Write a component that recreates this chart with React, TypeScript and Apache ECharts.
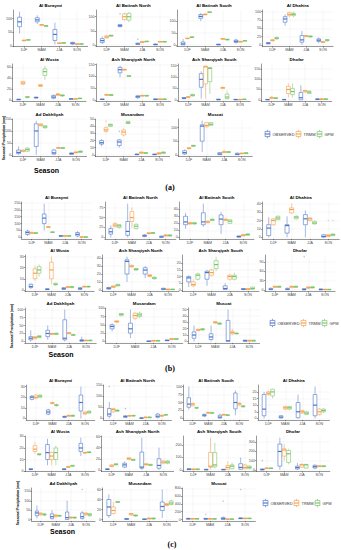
import React, { useEffect, useRef } from "react";
import * as echarts from "echarts";

const SEASONS = ["DJF", "MAM", "JJA", "SON"];
const PRODUCTS = ["OBSERVED", "TRMM", "GPM"];
const STATIONS = [
  "Al Buraymi", "Al Batinah North", "Al Batinah South", "Al Dhahira",
  "Al Wusta", "Ash Sharqiyah North", "Ash Sharqiyah South", "Dhofar",
  "Ad Dakhliyah", "Musandam", "Muscat",
];
const PANEL_LABELS = ["(a)", "(b)", "(c)"];
const Y_TITLE = "Seasonal Precipitation (mm)";
const X_TITLE = "Season";

// [min, Q1, median, Q3, max] per station, per season (DJF, MAM, JJA, SON)
const A_OBS = [
  [[45, 70, 88, 105, 125], [80, 88, 95, 103, 112], [5, 20, 42, 60, 85], [4, 7, 10, 13, 15]],
  [[3, 8, 15, 22, 30], [62, 65, 68, 72, 75], [0, 2, 3, 6, 8], [0, 0.5, 1, 3, 4]],
  [[0, 0, 4, 12, 25], [100, 112, 120, 128, 135], [0, 0.5, 1, 3, 4], [5, 10, 15, 20, 25]],
  [[2, 3, 5, 7, 8], [58, 68, 78, 85, 92], [0, 8, 15, 28, 42], [5, 10, 14, 18, 22]],
  [[0, 0.2, 0.5, 1, 1.5], [3, 3.5, 4, 5, 5.5], [1, 3, 5, 8, 10], [1, 1.2, 1.5, 2, 2.5]],
  [[2, 2.5, 3, 4, 4.5], [95, 115, 128, 138, 145], [5, 10, 14, 18, 22], [1, 1.5, 3, 5, 6]],
  [[4, 5, 7, 10, 12], [5, 55, 90, 115, 125], [0, 0.5, 1, 3, 4], [0, 0.3, 1, 2, 2.5]],
  [[0, 0.5, 1, 2, 2.5], [0, 0.5, 1, 2, 2.5], [0, 0, 10, 35, 70], [0, 1, 2, 5, 7]],
  [[0, 5, 10, 20, 35], [0, 35, 100, 130, 143], [0, 3, 8, 20, 25], [1, 2, 5, 8, 10]],
  [[12, 15, 17, 20, 22], [10, 13, 18, 21, 22], [0, 0.2, 0.5, 1, 1.2], [0, 0.2, 0.5, 1, 1.2]],
  [[0, 3, 8, 15, 20], [10, 50, 105, 110, 125], [0, 0.5, 3, 8, 10], [0, 0.5, 2, 6, 8]],
];
const A_TRMM = [
  [[18, 19, 20, 21, 22], [74, 75, 77, 78, 79], [8, 9, 10, 11, 12], [5, 6, 7, 8, 9]],
  [[22, 25, 28, 32, 35], [85, 90, 100, 110, 115], [7, 8, 10, 12, 13], [9, 10, 11, 12, 13]],
  [[25, 26, 27, 28, 29], [126, 127, 128, 130, 131], [23, 24, 25, 27, 28], [11, 12, 13, 15, 16]],
  [[11, 12, 14, 15, 16], [83, 88, 92, 97, 100], [24, 25, 27, 28, 29], [6, 7, 8, 10, 11]],
  [[27, 29, 31, 34, 35], [24, 25, 26, 28, 29], [7, 8, 10, 11, 12], [0.5, 1, 1.5, 2, 2.5]],
  [[19, 20, 22, 23, 24], [126, 127, 128, 130, 131], [16, 17, 18, 20, 21], [1, 2, 3, 5, 6]],
  [[10, 11, 12, 14, 15], [5, 70, 145, 148, 150], [49, 50, 53, 55, 56], [0, 0.5, 1, 2, 2.5]],
  [[6, 7, 9, 12, 13], [10, 30, 50, 65, 80], [35, 38, 43, 45, 48], [1, 2, 3, 5, 6]],
  [[12, 13, 16, 20, 22], [120, 122, 125, 130, 132], [27, 28, 29, 30, 31], [7, 8, 10, 12, 13]],
  [[31, 33, 35, 38, 40], [26, 28, 32, 35, 37], [1.5, 2, 3, 4, 4.5], [0.5, 1, 2, 3, 3.5]],
  [[21, 22, 24, 26, 27], [100, 103, 108, 118, 120], [7, 8, 10, 12, 20], [3, 4, 5, 6, 7]],
];
const A_GPM = [
  [[20, 21, 22, 23, 24], [71, 72, 73, 74, 75], [9, 10, 11, 12, 13], [5, 6, 7, 8, 9]],
  [[30, 31, 33, 34, 35], [80, 88, 100, 112, 118], [10, 11, 12, 13, 14], [9, 10, 11, 12, 13]],
  [[30, 31, 32, 34, 35], [135, 136, 138, 139, 140], [20, 21, 22, 24, 25], [15, 16, 17, 18, 19]],
  [[16, 18, 20, 22, 26], [83, 88, 92, 95, 100], [23, 24, 25, 27, 28], [10, 12, 14, 16, 18]],
  [[3, 4, 5, 6, 6.5], [37, 45, 52, 57, 63], [6, 7, 8, 9, 10], [2, 2.2, 2.5, 3, 3.5]],
  [[19, 20, 21, 23, 24], [99, 100, 101, 103, 104], [16, 17, 18, 20, 21], [1, 2, 3, 5, 6]],
  [[15, 17, 20, 24, 26], [25, 80, 138, 142, 145], [2, 5, 12, 25, 40], [0.5, 1, 2, 3, 3.5]],
  [[5, 6, 8, 10, 11], [10, 25, 40, 55, 80], [28, 30, 37, 42, 45], [1, 2, 3, 5, 6]],
  [[12, 15, 22, 28, 32], [110, 113, 117, 122, 125], [26, 27, 28, 30, 31], [9, 10, 13, 16, 18]],
  [[39, 40, 42, 43, 44], [43, 44, 45, 47, 48], [1.5, 2, 2.5, 3, 3.5], [1.5, 2, 3, 4, 4.5]],
  [[30, 31, 33, 35, 36], [105, 108, 112, 118, 120], [7, 8, 10, 12, 13], [3, 4, 6, 8, 9]],
];

const B_OBS = [
  [[10, 20, 35, 45, 55], [50, 100, 140, 170, 245], [5, 7, 10, 13, 15], [0, 10, 22, 35, 45]],
  [[0, 8, 14, 22, 30], [0, 5, 15, 40, 85], [0, 2, 4, 6, 8], [0, 0.3, 1, 3, 4]],
  [[12, 18, 22, 30, 35], [15, 18, 22, 35, 48], [5, 18, 26, 32, 36], [0, 0.3, 1, 2, 2.5]],
  [[0, 2, 11, 15, 24], [0, 5, 14, 15, 25], [0, 15, 22, 27, 32], [0, 0.3, 1, 3, 4]],
  [[1, 2, 3, 5, 6], [0, 0.2, 0.5, 1, 1.2], [0, 0.5, 1, 2, 2.5], [0, 0.5, 1, 2, 2.5]],
  [[0, 1, 2, 3, 4], [10, 20, 36, 38, 42], [15, 20, 25, 28, 30], [0, 0.3, 1, 2, 2.5]],
  [[2, 6, 9, 10, 11], [3, 8, 13, 14, 15], [0, 0.3, 1, 3, 5], [0, 0.2, 0.5, 1, 1.2]],
  [[0, 0.5, 2, 5, 7], [0, 0.5, 2, 5, 7], [0, 0.3, 1, 4, 6], [0, 0.3, 1, 3, 4]],
  [[0, 5, 10, 15, 35], [5, 15, 25, 35, 50], [0, 5, 10, 68, 100], [0, 0.5, 3, 5, 15]],
  [[30, 38, 45, 50, 55], [10, 25, 38, 55, 96], [0, 0.2, 0.5, 1, 1.2], [1.5, 2, 3, 4, 4.5]],
  [[0, 5, 10, 15, 25], [0, 3, 7, 12, 25], [0, 0.2, 1, 33, 50], [0, 0.3, 1, 2, 2.5]],
];
const B_TRMM = [
  [[24, 28, 32, 36, 40], [70, 72, 75, 78, 80], [7, 8, 10, 12, 13], [0, 1, 2, 4, 5]],
  [[25, 27, 31, 35, 38], [25, 40, 50, 65, 75], [8, 9, 10, 12, 13], [2, 3, 5, 6, 7]],
  [[18, 19, 20, 21, 22], [20, 21, 22, 23, 24], [23, 24, 25, 26, 27], [1.5, 2, 3, 4, 4.5]],
  [[14, 15, 20, 22, 23], [28, 29, 33, 35, 40], [19, 20, 22, 23, 24], [0.5, 1, 2, 3, 3.5]],
  [[8, 10, 15, 19, 22], [5, 10, 18, 25, 30], [1.5, 2, 2.5, 3, 3.5], [2, 2.5, 3, 3.2, 3.5]],
  [[2.5, 3, 4, 5, 5.5], [28, 29, 30, 31, 32], [16, 17, 18, 19, 20], [0, 0.2, 0.5, 1, 1.2]],
  [[2, 3, 4, 6, 8], [10, 11, 13, 15, 16], [7, 8, 10, 11, 12], [0, 0.2, 0.5, 1, 1.2]],
  [[7, 8, 10, 12, 13], [6, 7, 10, 12, 13], [4, 5, 7, 10, 11], [0, 0.5, 1, 2, 2.5]],
  [[6, 8, 12, 15, 17], [21, 22, 24, 25, 26], [23, 24, 26, 28, 29], [1.5, 2, 3, 4, 4.5]],
  [[56, 58, 60, 62, 63], [65, 70, 78, 85, 88], [0.5, 1, 2, 3, 3.5], [5, 6, 7, 9, 10]],
  [[16, 17, 18, 19, 20], [28, 29, 30, 31, 32], [10, 12, 14, 16, 20], [0, 0.5, 1, 2, 2.5]],
];
const B_GPM = [
  [[26, 28, 31, 34, 36], [33, 35, 37, 40, 42], [7, 8, 10, 12, 13], [0, 1, 2, 4, 5]],
  [[22, 25, 29, 32, 34], [20, 22, 28, 33, 35], [9, 10, 11, 12, 13], [2, 3, 5, 6, 7]],
  [[18, 19, 20, 21, 22], [23, 24, 25, 26, 27], [19, 20, 23, 25, 26], [2.5, 3, 4, 5, 5.5]],
  [[20, 21, 23, 25, 26], [21, 22, 24, 25, 26], [15, 16, 17, 19, 20], [1.5, 2, 3, 4, 4.5]],
  [[12, 15, 18, 21, 23], [4, 4.5, 5, 6, 6.5], [1.5, 2, 2.5, 3, 3.5], [2, 2.5, 3, 3.2, 3.5]],
  [[4.5, 5, 6, 7, 7.5], [24, 25, 26, 27, 28], [13, 14, 15, 16, 17], [0, 0.2, 0.5, 1, 1.2]],
  [[7, 8, 11, 12, 13], [14, 16, 19, 22, 25], [7, 8, 10, 11, 13], [0, 0.5, 1, 2, 2.5]],
  [[7, 8, 10, 12, 13], [7, 8, 10, 12, 13], [5, 6, 8, 10, 11], [0, 0.5, 1, 2, 2.5]],
  [[10, 12, 15, 18, 20], [20, 22, 24, 26, 27], [17, 19, 20, 22, 23], [1.5, 2, 3, 4, 4.5]],
  [[75, 78, 82, 84, 85], [70, 75, 80, 85, 90], [0.5, 1, 2, 3, 3.5], [5, 6, 7, 9, 10]],
  [[17, 18, 19, 20, 21], [26, 27, 28, 29, 30], [11, 12, 12.5, 13, 14], [0, 0.5, 1, 2, 2.5]],
];

const C_OBS = [
  [[17, 18, 20, 21, 22], [3, 4, 6, 8, 9], [0.5, 1, 1.5, 2, 2.5], [0, 7, 15, 22, 30]],
  [[0, 10, 20, 45, 75], [3, 5, 8, 12, 15], [0, 0.3, 1, 3, 4], [0, 5, 10, 20, 25]],
  [[28, 35, 45, 65, 100], [5, 7, 10, 13, 15], [0, 1, 4, 10, 15], [10, 30, 50, 80, 88]],
  [[0, 2, 7, 18, 20], [0, 0.3, 1, 2, 2.5], [0, 0.5, 5, 12, 18], [0, 2, 10, 18, 24]],
  [[1, 1.2, 1.5, 2, 2.2], [5, 10, 16, 23, 28], [1, 1.2, 1.5, 2, 2.2], [13, 17, 20, 24, 29]],
  [[0.5, 0.8, 1, 2, 2.5], [3, 5, 9, 12, 15], [0, 3, 5, 32, 58], [0, 3, 8, 20, 40]],
  [[0, 2, 5, 10, 15], [0, 1, 2, 5, 8], [0, 1, 2, 5, 8], [0, 5, 20, 50, 100]],
  [[0, 1, 3, 10, 15], [0, 40, 200, 280, 350], [0, 10, 25, 40, 75], [10, 20, 35, 50, 60]],
  [[5, 20, 35, 45, 75], [0, 5, 15, 30, 50], [0, 0, 10, 40, 100], [0, 5, 15, 35, 45]],
  [[3, 8, 25, 40, 50], [0, 0.3, 1, 2, 2.5], [0, 0.2, 0.5, 1, 1.2], [3, 18, 26, 35, 60]],
  [[5, 10, 20, 30, 40], [5, 10, 15, 30, 40], [0, 5, 20, 50, 80], [15, 20, 30, 40, 45]],
];
const C_TRMM = [
  [[18, 19, 20, 22, 23], [13, 14, 14.5, 15, 16], [1.5, 2, 2.5, 3, 3.5], [3.5, 4, 5, 6, 6.5]],
  [[25, 30, 40, 45, 48], [9, 10, 12, 13, 14], [2, 3, 5, 6, 7], [8, 10, 12, 15, 16]],
  [[38, 40, 45, 47, 49], [15, 16, 18, 19, 20], [9, 10, 12, 13, 14], [40, 42, 46, 48, 50]],
  [[17, 18, 19, 20, 21], [6, 7, 8, 9, 9.5], [3.5, 4, 5, 6, 6.5], [2, 3, 5, 7, 8]],
  [[15, 17, 19, 22, 25], [5, 10, 13, 16, 17], [3, 3.2, 3.5, 4, 4.2], [15, 15.5, 16, 16.2, 16.5]],
  [[5, 6, 7, 9, 10], [18, 19, 20, 22, 23], [8, 9, 10, 11, 12], [10, 12, 14, 16, 17]],
  [[0, 1, 4, 8, 10], [5, 20, 30, 140, 260], [0, 5, 20, 35, 70], [5, 10, 20, 40, 50]],
  [[12, 15, 18, 20, 22], [100, 150, 215, 230, 280], [20, 30, 55, 60, 70], [30, 35, 40, 45, 48]],
  [[20, 25, 30, 35, 38], [10, 15, 20, 25, 28], [5, 8, 10, 14, 16], [20, 25, 30, 35, 38]],
  [[10, 12, 18, 25, 35], [8, 9, 11, 12, 13], [0.5, 1, 2, 3, 3.5], [26, 28, 30, 32, 33]],
  [[5, 10, 20, 25, 30], [5, 10, 15, 25, 30], [2, 5, 10, 15, 18], [15, 20, 28, 35, 38]],
];
const C_GPM = [
  [[19, 20, 21, 22, 23], [11, 12, 12.5, 13, 14], [1.5, 2, 2.5, 3, 3.5], [4.5, 5, 6, 7, 7.5]],
  [[30, 32, 36, 38, 40], [10, 11, 12, 14, 15], [2, 3, 5, 6, 7], [14, 15, 16, 18, 19]],
  [[30, 32, 33, 35, 36], [15, 16, 17, 19, 20], [8, 9, 10, 12, 13], [34, 36, 38, 40, 41]],
  [[15, 17, 20, 22, 22.5], [6, 7, 8, 9, 9.5], [2.5, 3, 4, 5, 5.5], [4, 5, 6, 7, 7.5]],
  [[13.5, 14, 14.5, 15, 15.5], [5, 10, 16, 20, 22], [4, 4.2, 4.5, 5, 5.2], [15.5, 16, 16.3, 16.6, 17]],
  [[8, 9, 10, 11, 12], [16, 17, 18, 19, 20], [7, 8, 9, 10, 11], [10, 12, 14, 16, 17]],
  [[0, 2, 5, 8, 10], [10, 25, 40, 140, 220], [5, 10, 30, 40, 60], [5, 10, 20, 30, 40]],
  [[12, 15, 18, 20, 22], [60, 80, 175, 210, 230], [15, 20, 55, 60, 65], [30, 35, 40, 45, 48]],
  [[18, 23, 27, 30, 33], [15, 18, 20, 22, 24], [5, 8, 10, 13, 15], [15, 20, 25, 32, 35]],
  [[33, 34, 35, 36, 37], [6, 7, 8, 9, 10], [0.5, 1, 2, 3, 3.5], [28, 30, 33, 37, 40]],
  [[5, 10, 20, 25, 30], [5, 10, 15, 25, 30], [2, 5, 10, 15, 18], [15, 20, 28, 35, 38]],
];

// outliers: [station, season, product, value]
const A_OUT = [[1, 1, 0, 110], [1, 2, 0, 20], [1, 3, 0, 40], [7, 1, 1, 165], [7, 0, 1, 15], [8, 2, 0, 93], [10, 2, 0, 85], [9, 0, 0, 30], [9, 0, 1, 47], [9, 1, 0, 33]];
const B_OUT = [[1, 0, 0, 52], [1, 2, 0, 20], [3, 3, 1, 20], [3, 3, 2, 20], [7, 0, 0, 97], [7, 2, 0, 108], [7, 1, 1, 15]];
const C_OUT = [[1, 0, 0, 145], [1, 1, 0, 45], [7, 0, 0, 100], [8, 3, 0, 160], [10, 1, 0, 135], [10, 2, 0, 470], [10, 3, 0, 770]];

// y tick labels per station
const A_TICKS = [[0, 50, 100], [0, 50, 100], [0, 50, 100], [0, 25, 50, 75, 100], [0, 20, 40, 60], [0, 50, 100, 150], [0, 50, 100, 150], [0, 50, 100, 150], [0, 50, 100, 150], [0, 10, 20, 30, 40, 50], [0, 50, 100]];
const B_TICKS = [[0, 50, 100, 150, 200, 250], [0, 25, 50, 75], [0, 10, 20, 30, 40], [0, 10, 20, 30, 40], [0, 10, 20, 30], [0, 10, 20, 30, 40], [0, 5, 10, 15, 20], [0, 30, 60, 90], [0, 25, 50, 75, 100], [0, 25, 50, 75, 100], [0, 10, 20, 30, 40, 50]];
const C_TICKS = [[0, 10, 20, 30], [0, 50, 100, 150], [0, 25, 50, 75, 100], [0, 5, 10, 15, 20], [0, 10, 20, 30], [0, 20, 40, 60], [0, 100, 200], [0, 100, 200, 300], [0, 50, 100, 150], [0, 20, 40, 60], [0, 200, 400, 600, 800]];

const COLORS = ["#4a74c9", "#f5a04a", "#78c468"];
const FONT = "Liberation Sans, Arial, sans-serif";

// layout (pixels)
const ROWS = [
  [[10, 46.5], [64, 101.5], [119, 156.5]],
  [[202, 239], [255, 291.5], [308, 343]],
  [[385, 420], [436, 471.5], [488, 521]],
];
// [DJF centre x, SON centre x]
const COLS = [
  [[[24, 77], [106.7, 160], [187.5, 240.5], [272.5, 323]], [[23, 75.5], [106.7, 160], [188.3, 240], [271.7, 321.7]], [[23, 76], [106, 159], [189, 241.7]]],
  [[[31.7, 81.7], [115, 165.7], [190, 243.3], [273.3, 328.3]], [[35, 84.3], [113.3, 168], [193.3, 248], [275, 325]], [[35, 86], [116.7, 171.7], [198.3, 249.3]]],
  [[[36, 85], [113.3, 161.7], [192.7, 239.3], [268.3, 319.3]], [[35, 85], [111.7, 163.3], [193.3, 245], [266.7, 319.3]], [[40.7, 86], [113.3, 166.7], [192.7, 245]]],
];
const SEASON_POS = [[46.5, 170.5], [61, 354], [62.5, 531.5]];
const YLAB_POS = [[4, 138], [12, 326], [18, 503]];
const LETTER_POS = [[170, 187], [170, 368], [172, 544]];
const LEGEND_POS = [[265, 134], [270, 323], [263, 503]];
const OFFSETS = [-0.25, 0, 0.25];
const BOX_W = 0.22;

const PANELS = [
  { data: [A_OBS, A_TRMM, A_GPM], out: A_OUT, ticks: A_TICKS },
  { data: [B_OBS, B_TRMM, B_GPM], out: B_OUT, ticks: B_TICKS },
  { data: [C_OBS, C_TRMM, C_GPM], out: C_OUT, ticks: C_TICKS },
];

function boxRender(j: number) {
  return (params: any, api: any) => {
    const cat = api.value(0);
    const v = [1, 2, 3, 4, 5].map((d) => api.value(d));
    const unit = api.size([1, 0])[0];
    const base = api.coord([cat, v[2]]);
    const cx = base[0] + OFFSETS[j] * unit;
    const hw = (BOX_W * unit) / 2;
    const Y = (val: number) => api.coord([cat, val])[1];
    const col = COLORS[j];
    const y0 = Y(v[0]), y1 = Y(v[1]), y3 = Y(v[3]), y4 = Y(v[4]);
    return {
      type: "group",
      children: [
        { type: "line", shape: { x1: cx, y1: y4, x2: cx, y2: y3 }, style: { stroke: col, lineWidth: 0.5 } },
        { type: "line", shape: { x1: cx, y1: y1, x2: cx, y2: y0 }, style: { stroke: col, lineWidth: 0.5 } },
        { type: "rect", shape: { x: cx - hw, y: y3, width: 2 * hw, height: Math.max(y1 - y3, 0.4) }, style: { fill: "#fff", stroke: col, lineWidth: 0.6 } },
        { type: "line", shape: { x1: cx - hw, y1: base[1], x2: cx + hw, y2: base[1] }, style: { stroke: col, lineWidth: 1.2 } },
      ],
    };
  };
}

function outRender(params: any, api: any) {
  const cat = api.value(0);
  const j = api.value(2);
  const unit = api.size([1, 0])[0];
  const c = api.coord([cat, api.value(1)]);
  return {
    type: "circle",
    shape: { cx: c[0] + OFFSETS[j] * unit, cy: c[1], r: 0.7 },
    style: { fill: COLORS[j], opacity: 0.45 },
  };
}

function txt(text: string, x: number, y: number, size: number, extra: any = {}) {
  return {
    type: "text",
    x,
    y,
    silent: true,
    ...extra.el,
    style: {
      text,
      fontSize: size,
      fontFamily: extra.font || FONT,
      fontWeight: extra.weight || "normal",
      fill: extra.fill || "#1a1a1a",
      align: extra.align || "center",
      textAlign: extra.align || "center",
      verticalAlign: "middle",
      textVerticalAlign: "middle",
    },
  };
}

function buildOption() {
  const grids: any[] = [];
  const xAxes: any[] = [];
  const yAxes: any[] = [];
  const series: any[] = [];
  const graphics: any[] = [];
  let k = 0;
  PANELS.forEach((panel, p) => {
    STATIONS.forEach((name, i) => {
      const row = Math.floor(i / 4);
      const col = i % 4;
      const [djf, son] = COLS[p][row][col];
      const s = (son - djf) / 3;
      const left = djf - 0.6 * s;
      const width = 4.2 * s;
      const [top, bottom] = ROWS[p][row];
      const outs = panel.out.filter((o) => o[0] === i);
      const all: number[] = [];
      panel.data.forEach((prod) => prod[i].forEach((b) => all.push(...b)));
      outs.forEach((o) => all.push(o[3]));
      const lo = Math.min(...all);
      const hi = Math.max(...all);
      const pad = 0.05 * (hi - lo);
      grids.push({ left, top, width, height: bottom - top, containLabel: false });
      const axisLine = { show: true, onZero: false, lineStyle: { color: "#333", width: 0.5 } };
      const ticks = panel.ticks[i];
      xAxes.push({
        type: "value",
        gridIndex: k,
        min: -0.6,
        max: 3.6,
        axisLine,
        axisTick: { show: true, length: 1.2, customValues: [0, 1, 2, 3], lineStyle: { color: "#333", width: 0.5 } },
        axisLabel: {
          customValues: [0, 1, 2, 3],
          formatter: (v: number) => SEASONS[Math.round(v)] || "",
          fontSize: 3.6,
          margin: 1.8,
          color: "#4d4d4d",
          fontFamily: FONT,
        },
        splitLine: { show: true, lineStyle: { color: "#ececec", width: 0.4 } },
      });
      yAxes.push({
        type: "value",
        gridIndex: k,
        min: lo - pad,
        max: hi + pad,
        axisLine,
        axisTick: { show: true, length: 1.2, customValues: ticks, lineStyle: { color: "#333", width: 0.5 } },
        axisLabel: { customValues: ticks, fontSize: 3.6, margin: 1.5, color: "#4d4d4d", fontFamily: FONT },
        splitLine: { show: true, lineStyle: { color: "#ececec", width: 0.4 } },
      });
      panel.data.forEach((prod, j) => {
        series.push({
          type: "custom",
          name: PRODUCTS[j],
          xAxisIndex: k,
          yAxisIndex: k,
          renderItem: boxRender(j),
          encode: { x: 0, y: [1, 2, 3, 4, 5] },
          data: prod[i].map((b, si) => [si, ...b]),
          silent: true,
          clip: false,
        });
      });
      if (outs.length) {
        series.push({
          type: "custom",
          name: "outliers",
          xAxisIndex: k,
          yAxisIndex: k,
          renderItem: outRender,
          encode: { x: 0, y: 1 },
          data: outs.map((o) => [o[1], o[3], o[2]]),
          silent: true,
          clip: false,
        });
      }
      graphics.push(txt(name, left + width / 2, top - 4.5, 4.4, { weight: "bold", fill: "#000" }));
      k++;
    });
    const [sx, sy] = SEASON_POS[p];
    graphics.push(txt(X_TITLE, sx, sy, 7, { weight: "bold", fill: "#000" }));
    const [yx, yy] = YLAB_POS[p];
    graphics.push(txt(Y_TITLE, yx, yy, 3.3, { weight: "bold", fill: "#000", el: { rotation: Math.PI / 2 } }));
    const [lx, ly] = LETTER_POS[p];
    graphics.push(txt(PANEL_LABELS[p], lx, ly, 8, { fill: "#000", font: "Liberation Serif, serif", weight: "bold" }));
    const [gx, gy] = LEGEND_POS[p];
    const iconX = [0, 31, 52];
    const textX = [7.5, 38.5, 59.5];
    PRODUCTS.forEach((prod, j) => {
      const cx = gx + iconX[j] + 2.5;
      const col = COLORS[j];
      graphics.push({ type: "line", silent: true, shape: { x1: cx, y1: gy - 4.2, x2: cx, y2: gy + 4.2 }, style: { stroke: col, lineWidth: 0.6 } });
      graphics.push({ type: "rect", silent: true, shape: { x: cx - 2.4, y: gy - 2.6, width: 4.8, height: 5.2 }, style: { fill: "#fff", stroke: col, lineWidth: 0.7 } });
      graphics.push({ type: "line", silent: true, shape: { x1: cx - 2.4, y1: gy, x2: cx + 2.4, y2: gy }, style: { stroke: col, lineWidth: 1.1 } });
      graphics.push(txt(prod, gx + textX[j], gy, 4, { align: "left", fill: "#333" }));
    });
  });
  return {
    animation: false,
    backgroundColor: "#fff",
    grid: grids,
    xAxis: xAxes,
    yAxis: yAxes,
    series,
    graphic: { elements: graphics },
  };
}

export default function App() {
  const ref = useRef<HTMLDivElement>(null);
  useEffect(() => {
    if (!ref.current) return;
    const chart = echarts.init(ref.current, undefined, { renderer: "svg" });
    chart.setOption(buildOption() as any);
    return () => chart.dispose();
  }, []);
  return (
    <div
      ref={ref}
      style={{ position: "absolute", left: 0, top: 0, width: 341, height: 550, background: "#fff" }}
    />
  );
}
